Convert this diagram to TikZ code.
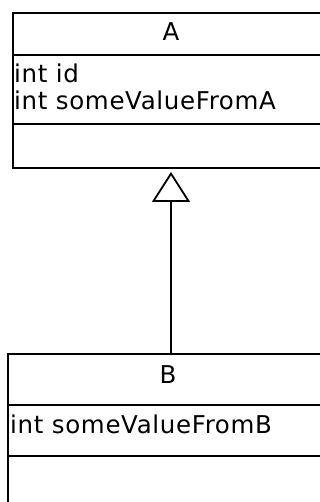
\documentclass[tikz,border=0pt]{standalone}
\usepackage{fontspec}
\setmainfont{DejaVu Sans}
\newfontfamily\umlfont[LetterSpace=2.7]{DejaVu Sans}
\usetikzlibrary{arrows.meta}

\begin{document}
\begin{tikzpicture}[x=1pt, y=-1pt,
    classbox/.style={draw=black, line width=2pt, outer sep=0pt, anchor=north west},
    sepline/.style={black, line width=2pt},
    classname/.style={anchor=base, inner sep=0pt, font=\umlfont\fontsize{24.5}{27}\selectfont},
    member/.style={anchor=base west, inner sep=0pt, font=\umlfont\fontsize{24.5}{27}\selectfont},
    inherit/.style={black, line width=2pt, shorten >=4pt,
      -{Triangle[open, length=30pt, width=38pt, line width=1.8pt]}}]
    \useasboundingbox (0,0) rectangle (320,502);
    % class A
    \node[classbox, minimum width=316pt, minimum height=155pt] (A) at (13,13) {};
    \draw[sepline] (A.north west) ++(0,42) -- ++(316,0);
    \draw[sepline] (A.north west) ++(0,111) -- ++(316,0);
    \node[classname] (A name) at (171,41) {A};
    \node[member] (A id) at (14,83) {int id};
    \node[member] (A val) at (14,110) {int someValueFromA};
    % class B
    \node[classbox, minimum width=326pt, minimum height=190pt] (B) at (8,354) {};
    \draw[sepline] (B.north west) ++(0,51) -- ++(326,0);
    \draw[sepline] (B.north west) ++(0,102) -- ++(326,0);
    \node[classname] (B name) at (168,383) {B};
    \node[member] (B val) at (10,433) {int someValueFromB};
    % generalisation
    \draw[inherit] (B.north) -- (A.south);
  \end{tikzpicture}
\end{document}
